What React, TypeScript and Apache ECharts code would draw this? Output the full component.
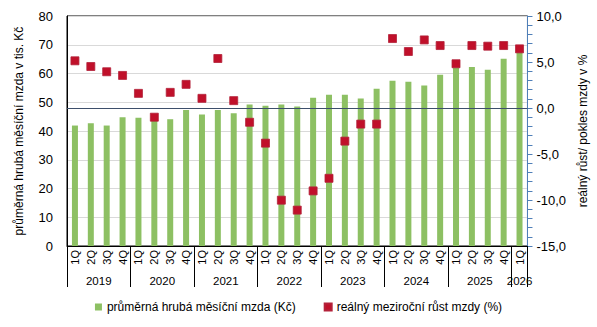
import React, { useEffect, useRef } from "react";
import * as echarts from "echarts";

const quarters = [
  "1Q","2Q","3Q","4Q","1Q","2Q","3Q","4Q","1Q","2Q","3Q","4Q","1Q","2Q","3Q","4Q",
  "1Q","2Q","3Q","4Q","1Q","2Q","3Q","4Q","1Q","2Q","3Q","4Q","1Q",
];
const quarterYears = [
  "2019","2019","2019","2019","2020","2020","2020","2020","2021","2021","2021","2021",
  "2022","2022","2022","2022","2023","2023","2023","2023","2024","2024","2024","2024",
  "2025","2025","2025","2025","2026",
];
const wages = [
  41.9, 42.7, 41.9, 44.8, 44.6, 43.9, 44.1, 47.3, 45.7, 47.3, 46.2, 49.2,
  48.8, 49.2, 48.5, 51.6, 52.6, 52.6, 51.3, 54.7, 57.5, 57.1, 55.8, 59.6,
  62.1, 62.3, 61.3, 65.1, 67.5,
];
const realGrowth = [
  5.13, 4.51, 3.94, 3.54, 1.59, -1.0, 1.7, 2.57, 1.05, 5.38, 0.8, -1.55,
  -3.82, -10.02, -11.1, -9.01, -7.64, -3.6, -1.75, -1.75, 7.55, 6.14, 7.4, 6.79,
  4.81, 6.79, 6.72, 6.79, 6.43,
];
const seriesNames = ["průměrná hrubá měsíční mzda (Kč)", "reálný meziroční růst mzdy (%)"];
const leftAxisName = "průměrná hrubá měsíční mzda v tis. Kč";
const rightAxisName = "reálný růst/ pokles mzdy v %";

export default function App() {
  const ref = useRef<HTMLDivElement>(null);
  useEffect(() => {
    document.body.style.margin = "0";
    if (!ref.current) return;
    const chart = echarts.init(ref.current, null, { renderer: "svg" });

    // year groups derived from categories
    const groups: { year: string; start: number; end: number }[] = [];
    quarterYears.forEach((y, i) => {
      const g = groups[groups.length - 1];
      if (g && g.year === y) g.end = i + 1;
      else groups.push({ year: y, start: i, end: i + 1 });
    });
    const boundaries = [0, ...groups.map((g) => g.end)];
    const centers = groups.map((g) => (g.start + g.end) / 2);

    const font = "'Liberation Sans', Arial, sans-serif";
    chart.setOption({
      animation: false,
      textStyle: { fontFamily: font, color: "#000" },
      grid: {
        left: 67, right: 65, top: 16, bottom: 81,
        show: true, borderColor: "#000", borderWidth: 1, backgroundColor: "transparent",
      },
      legend: {
        bottom: 9,
        left: "center",
        itemWidth: 7,
        itemHeight: 7,
        itemGap: 28,
        textStyle: { fontFamily: font, fontSize: 12, color: "#000" },
        data: [
          { name: seriesNames[0], icon: "rect" },
          { name: seriesNames[1], icon: "rect" },
        ],
      },
      xAxis: [
        {
          type: "category",
          data: quarters,
          position: "bottom",
          axisLine: { show: true, onZero: false, lineStyle: { color: "#000", width: 1 } },
          axisTick: { show: false },
          axisLabel: { rotate: 90, interval: 0, fontSize: 11, margin: 4, color: "#000", fontFamily: font },
        },
        {
          type: "value",
          min: 0,
          max: quarters.length,
          position: "bottom",
          axisLine: { show: false, onZero: false },
          splitLine: { show: false },
          axisTick: {
            show: true,
            customValues: boundaries,
            length: 41,
            lineStyle: { color: "#000", width: 1 },
          },
          axisLabel: {
            customValues: centers,
            margin: 29,
            fontSize: 11.5,
            color: "#000",
            fontFamily: font,
            formatter: (v: number) => {
              const idx = centers.findIndex((c) => Math.abs(c - v) < 1e-6);
              return idx >= 0 ? groups[idx].year : "";
            },
          },
        },
      ],
      yAxis: [
        {
          type: "value",
          min: 0,
          max: 80,
          interval: 10,
          position: "left",
          name: leftAxisName,
          nameLocation: "middle",
          nameRotate: 90,
          nameGap: 42,
          nameTextStyle: { fontSize: 12, color: "#000", fontFamily: font },
          axisLine: { show: true, lineStyle: { color: "#000" } },
          axisTick: { show: false },
          axisLabel: { fontSize: 13, color: "#000", margin: 14, fontFamily: font },
          splitLine: { show: true, lineStyle: { color: "#d9d9d9", width: 1 } },
        },
        {
          type: "value",
          min: -15,
          max: 10,
          interval: 5,
          position: "right",
          name: rightAxisName,
          nameLocation: "middle",
          nameRotate: 90,
          nameGap: 46,
          nameTextStyle: { fontSize: 12, color: "#000", fontFamily: font },
          axisLine: { show: true, onZero: false, lineStyle: { color: "#4f7fb8", width: 1 } },
          axisTick: { show: true, length: 5, lineStyle: { color: "#4f7fb8" } },
          minorTick: { show: true, splitNumber: 5, length: 5, lineStyle: { color: "#4f7fb8" } },
          axisLabel: {
            fontSize: 13, color: "#000", margin: 9, fontFamily: font,
            formatter: (v: number) => v.toFixed(1).replace(".", ","),
          },
          splitLine: { show: false },
        },
      ],
      series: [
        {
          name: seriesNames[0],
          type: "bar",
          xAxisIndex: 0,
          yAxisIndex: 0,
          data: wages,
          barWidth: 6,
          itemStyle: { color: "#8dc063" },
        },
        {
          name: seriesNames[1],
          type: "scatter",
          xAxisIndex: 0,
          yAxisIndex: 1,
          data: realGrowth,
          symbol: "rect",
          symbolSize: 8,
          itemStyle: { color: "#c0102a", opacity: 1, borderColor: "#b3223a", borderWidth: 0.8 },
          z: 5,
          markLine: {
            silent: true,
            symbol: "none",
            label: { show: false },
            lineStyle: { color: "#3d4f6b", width: 1.2, type: "solid", opacity: 1 },
            data: [{ yAxis: 0 }],
            z: 3,
          },
        },
      ],
    });
    return () => chart.dispose();
  }, []);
  return <div ref={ref} style={{ width: 597, height: 327 }} />;
}
